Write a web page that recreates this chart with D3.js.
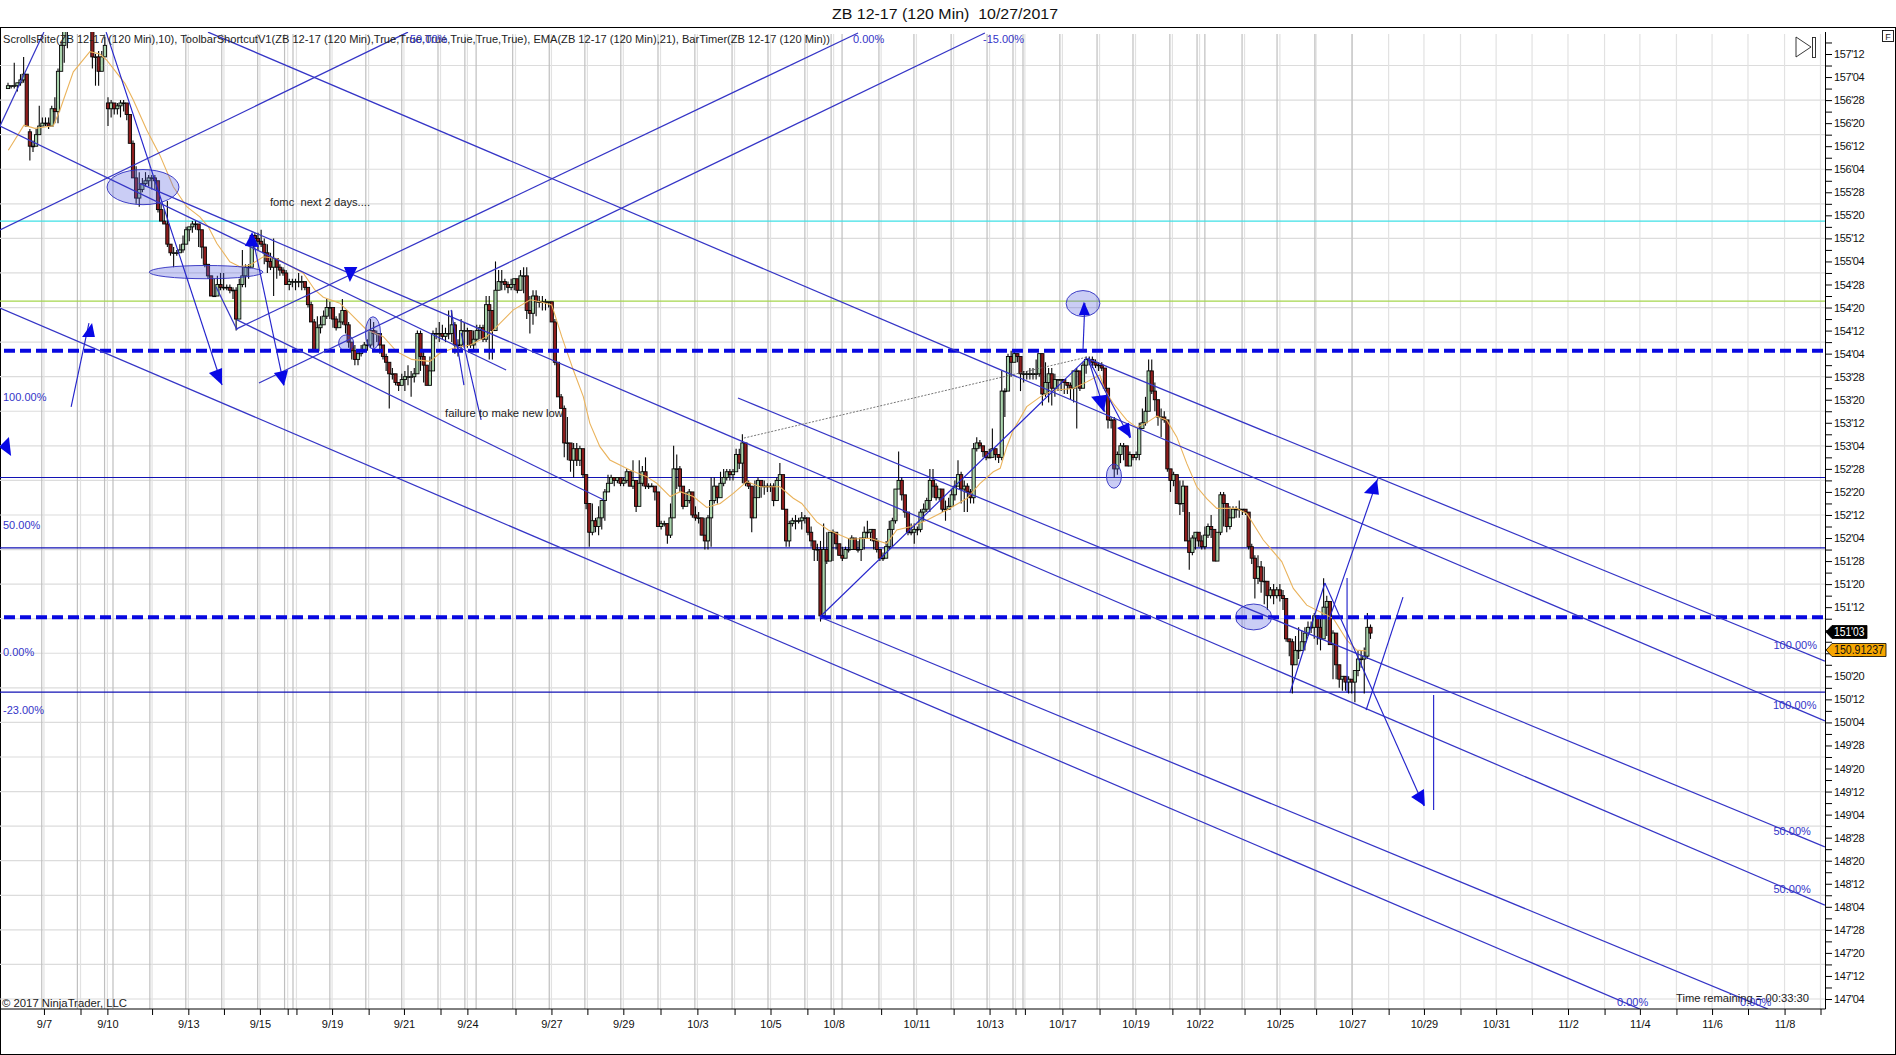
<!DOCTYPE html>
<html><head><meta charset="utf-8"><title>ZB 12-17</title>
<script src="https://cdnjs.cloudflare.com/ajax/libs/d3/7.8.5/d3.min.js"></script>
<style>
html,body{margin:0;padding:0;background:#fff;overflow:hidden}
svg{display:block}
text{font-family:"Liberation Sans",Arial,sans-serif}
</style></head><body><svg id="c" width="1896" height="1055"></svg>
<script>
// All prices are in 32nds above 147'00; bars are counted from the first visible candle.
const opens=[320,321,321,321,322,323,325,305,300,300,
304,307,308,308,307,313,312,326,335,340,
342,344,346,347,346,345,345,343,331,331,
326,331,315,313,315,313,314,315,315,311,
301,289,282,285,287,288,289,289,288,278,
274,273,266,263,263,263,264,266,271,272,
273,273,271,265,259,255,248,248,252,251,
251,251,250,250,240,252,255,258,258,269,
268,267,266,263,260,258,261,258,257,256,
252,253,253,253,253,253,251,245,239,229,
237,238,241,244,244,240,237,239,243,238,
232,229,226,228,229,231,231,236,235,235,
231,227,225,221,221,218,217,219,220,220,
220,221,235,227,224,217,222,235,235,235,
234,235,235,238,231,231,236,236,236,231,
233,236,237,233,245,243,236,250,253,253,
252,251,252,254,250,255,255,243,242,248,
246,246,246,246,246,239,225,213,209,197,
197,191,195,191,195,186,176,166,170,168,
171,177,180,183,185,184,185,183,184,187,
182,184,175,183,187,182,182,182,180,168,
169,169,165,171,188,188,182,175,177,180,
172,171,171,165,163,171,177,182,178,183,
185,187,186,187,193,190,197,183,182,171,
178,184,182,182,182,182,177,184,186,174,
163,169,170,170,170,171,171,166,163,160,
160,137,160,156,166,166,162,158,157,160,
160,164,160,160,164,166,166,167,163,160,
157,157,161,167,170,181,184,179,173,166,
166,167,167,173,174,177,184,182,178,181,
174,174,175,179,182,186,181,182,180,178,
195,197,196,194,192,192,195,193,192,215,
215,227,225,228,227,221,221,221,221,221,
221,228,214,218,221,216,219,219,219,218,
217,216,222,222,216,224,226,226,225,224,
224,223,216,205,205,188,193,196,196,189,
193,192,193,202,204,208,222,215,212,206,
206,205,188,184,186,176,176,182,163,159,
164,166,163,161,165,168,167,156,166,179,
176,168,171,174,174,174,174,173,161,157,
150,154,149,149,144,146,144,146,144,143,
129,128,120,125,125,128,131,133,133,137,
133,129,140,142,127,131,120,115,116,114,
115,114,118,122,122,123,133];
const closes=[321,321,321,322,323,325,307,300,300,304,
307,308,308,307,313,312,326,335,340,342,
344,346,347,346,345,345,343,331,331,326,
331,335,313,315,313,314,315,315,311,301,
289,282,285,287,288,289,289,288,278,274,
273,266,263,263,263,264,266,271,272,273,
273,271,265,259,255,248,248,252,251,251,
251,250,250,240,252,255,258,258,269,268,
267,266,263,260,258,261,258,257,256,252,
253,253,253,253,253,251,245,239,229,237,
238,241,244,244,240,237,239,243,238,232,
229,226,228,229,231,231,236,235,235,231,
227,225,221,221,218,217,219,220,220,220,
221,235,227,224,217,222,235,235,235,234,
235,235,238,231,231,236,236,236,231,233,
236,237,233,245,243,236,250,253,253,252,
251,252,254,250,255,255,243,242,248,246,
246,246,246,246,239,225,213,209,197,197,
191,195,191,195,186,176,166,170,168,171,
177,180,183,185,184,185,183,184,187,182,
184,175,183,187,182,182,182,180,168,169,
169,165,171,188,188,182,175,177,180,172,
171,171,165,163,171,177,182,178,183,185,
187,186,187,193,190,197,183,182,171,178,
184,182,182,182,182,177,184,186,174,163,
169,170,170,170,171,171,166,163,160,160,
137,160,156,166,166,162,158,157,160,160,
164,160,160,164,166,166,167,163,160,157,
157,161,167,170,181,184,179,173,166,166,
167,167,173,174,177,184,182,178,181,174,
174,175,179,182,186,181,182,180,178,195,
197,196,194,192,192,195,193,192,215,215,
227,225,228,227,221,221,221,221,221,221,
228,214,218,221,216,219,219,219,218,217,
216,222,222,216,224,226,226,225,224,224,
223,216,205,205,188,193,196,196,189,193,
192,193,202,204,208,222,215,212,206,206,
205,188,184,186,176,176,182,163,159,164,
166,163,161,165,168,167,156,166,179,176,
168,171,174,174,174,174,173,161,157,150,
154,149,149,144,146,144,146,144,143,129,
128,120,125,125,128,131,133,133,137,133,
129,140,142,127,131,120,115,116,114,115,
114,118,122,122,123,133,131];
const highs=[322,321,329,322,325,331,325,306,302,306,
314,310,310,310,314,317,327,336,342,345,
348,350,351,350,349,348,347,346,332,333,
333,338,317,316,315,315,316,316,314,311,
302,293,291,289,291,290,290,290,288,280,
278,281,266,265,264,266,269,272,272,274,
274,272,267,264,259,255,254,255,256,256,
252,252,251,251,254,264,259,259,269,270,
270,271,268,266,263,268,261,259,258,257,
254,254,254,256,255,252,251,246,240,241,
241,243,247,246,243,241,242,247,243,239,
232,231,229,231,232,233,240,239,236,235,
231,228,225,223,221,218,221,222,224,222,
223,236,236,229,224,227,236,237,239,238,
237,243,243,239,233,240,239,237,233,236,
238,238,238,248,248,243,260,257,257,254,
253,254,254,253,257,258,258,248,250,250,
248,248,247,246,246,240,225,214,210,206,
197,197,197,196,195,186,176,176,171,175,
177,181,186,186,185,185,185,185,188,187,
191,183,191,189,192,183,183,182,179,170,
170,169,176,196,193,189,182,180,181,180,
175,173,171,171,172,185,185,182,187,188,
188,188,188,195,195,200,197,184,182,184,
185,184,184,183,183,183,185,190,186,174,
170,171,172,171,173,172,170,168,163,162,
163,169,166,166,167,163,162,161,161,164,
165,164,163,164,168,170,167,167,164,160,
159,163,170,171,181,194,185,178,173,169,
169,168,174,176,178,188,188,183,181,178,
177,178,181,184,191,187,184,183,181,197,
199,198,196,194,195,202,195,193,222,216,
228,229,229,228,227,222,222,223,223,226,
228,228,225,223,223,221,219,219,219,218,
218,222,223,222,225,227,227,227,226,225,
225,223,216,206,206,194,197,197,196,194,
193,194,204,209,213,226,226,218,212,209,
208,205,188,187,186,184,184,182,173,165,
166,166,165,168,169,172,167,166,180,180,
176,175,175,175,177,174,174,173,162,158,
158,156,154,149,147,148,147,148,146,143,
129,129,130,133,132,133,135,135,138,135,
136,150,144,142,132,131,120,116,116,116,
115,118,125,125,126,138,134];
const lows=[320,320,320,319,321,322,307,295,298,300,
304,307,307,306,307,308,308,326,329,334,
341,343,344,344,343,342,341,327,321,321,
326,331,307,310,311,311,310,312,309,301,
289,280,279,284,286,286,285,285,277,274,
273,265,262,258,262,263,263,266,267,270,
271,265,261,258,254,248,248,249,250,250,
250,249,247,236,240,251,251,254,258,265,
264,265,259,256,257,248,254,255,255,252,
250,251,250,251,250,250,244,239,229,229,
235,238,240,240,237,236,237,238,235,230,
226,224,224,227,229,229,230,230,232,228,
226,222,209,219,217,215,217,215,217,213,
218,221,222,218,217,217,222,233,232,233,
232,233,232,228,227,229,230,230,230,229,
232,233,232,232,226,226,236,250,250,250,
249,250,250,249,250,249,240,235,238,241,
244,243,243,244,239,224,213,209,192,191,
187,185,189,189,185,174,161,165,166,165,
167,170,180,183,182,183,182,182,183,182,
181,173,175,182,181,181,182,177,168,167,
168,162,164,171,181,180,174,176,176,171,
170,169,165,160,160,161,176,176,178,182,
184,184,184,188,188,183,182,181,166,171,
178,178,179,180,180,175,177,184,174,161,
161,168,167,169,167,169,165,161,156,156,
135,137,155,156,156,160,158,156,157,159,
160,160,159,156,160,164,163,160,159,156,
156,157,160,161,169,181,177,171,165,165,
162,165,166,170,173,173,178,177,177,173,
170,174,175,177,182,176,173,173,176,176,
194,195,192,191,192,192,191,190,191,206,
215,220,225,225,215,218,219,219,219,219,
220,210,213,211,210,213,215,215,214,214,
212,211,202,215,216,221,224,223,223,222,
222,215,202,202,185,186,190,191,189,190,
191,191,191,203,203,209,214,208,203,199,
204,187,180,182,176,172,173,163,153,158,
160,161,160,160,164,164,156,156,165,168,
166,167,171,171,171,172,172,160,155,143,
148,145,141,139,143,141,143,142,139,128,
123,110,120,122,125,125,130,131,129,127,
125,133,130,127,115,115,112,111,111,110,
110,107,116,119,110,122,129];

const emaBars=[0.1,5.1,8.6,14.5,16.6,20.9,26.2,29.4,31.6,37.4,40.1,44.4,48.6,52.9,57.2,61.4,64.1,66.8,71,74.2,77.4,81.7,86,94.5,98.2,100.9,106.2,109.5,114.8,120.1,124.4,129.2,135,138.3,142.5,147.9,153.2,157.5,161.7,167.1,170.2,174,177.2,180.9,184.1,186.2,189.4,192.6,199,204.4,207.6,211.9,215.1,219.3,223.6,227.9,232.1,236.4,240.7,247,251.3,254,258.8,262.5,269.4,275.8,281.2,284.4,288.7,294,300.4,306.8,311,315.3,317.5,319.6,321.7,326,330.3,334.5,340.9,345.2,349.4,351,353.7,358,361.2,364.9,367.6,370.8,374,377.2,380.4,383.6,386.8,393.2,396.4,401.7,407.6,411.3,415.6,420.9,424.1,428.4,431.6,434.8];
const emaValues=[298.6,307.3,306.2,307.1,312.5,325.8,332.8,332,329.9,321.8,316,305.6,296.9,285.9,279,275.5,272,266.3,259.9,258.2,258.7,261.6,261,255.9,250.1,247.6,245.5,242,236.2,233.9,228.7,226,225.3,228.2,229.9,231,233.9,238.6,243.2,246.7,246,244.9,233.9,222.3,213.1,203.8,195.7,191.1,187.6,185.3,183,178.4,180.1,178.4,174.6,176,179.5,183.6,181.8,181.8,177.8,176,169.6,166.8,163.6,163.9,162.1,166.8,167.9,170.2,173.7,177.7,182.9,187,188.2,195.7,201.5,209.6,213,215.3,215.9,218.2,220.6,215.3,210.7,204.9,202.4,204.4,206.3,204.9,199.1,189.9,181.8,177.7,174.3,174.3,172.5,163.3,155.8,146.5,140.7,137.8,136.1,128.6,125.1,124.8];

// Price axis
const priceTicks=[336,332,328,324,320,316,312,308,304,300,296,292,288,284,280,276,272,268,264,260,256,252,248,244,240,236,232,228,224,220,216,212,208,204,200,196,192,188,184,180,176,172,168,164,160,156,152,148,144,140,136,132,128,124,120,116,112,108,104,100,96,92,88,84,80,76,72,68,64,60,56,52,48,44,40,36,32,28,24,20,16,12,8,4];
const priceGrid=[328,316,304,292,280,268,256,244,232,220,208,196,184,172,160,148,136,124,112,100,88,76,64,52,40,28,16,4];

// Time axis
const timeTicks=[11.5,23.2,31.8,46.1,57.7,69.1,80.6,89.5,92.3,103.7,115.4,126.7,138.4,147,162.4,173.9,185.4,196.9,208.8,220.6,232.5,244,255.8,264.2,279.4,290.7,302.6,314.1,322.4,325.4,337.4,349.3,360.8,372.6,381.3,395.7,407,418.6,430.1,441.8,453.1,464.8,476.2,487.7,499.2,510.9,522.2,533.9,545.3,556.8,568.5,580];
const timeLabelBars=[11.5,31.8,57.7,80.6,103.7,126.7,147,173.9,196.9,220.6,244,264.2,290.7,314.1,337.4,360.8,381.3,407,430.1,453.1,476.2,499.2,522.2,545.3,568.5];
const timeLabels=["9/7","9/10","9/13","9/15","9/19","9/21","9/24","9/27","9/29","10/3","10/5","10/8","10/11","10/13","10/17","10/19","10/22","10/25","10/27","10/29","10/31","11/2","11/4","11/6","11/8"];
const sessionBars=[10.8,22.2,30.9,33.6,45.4,56.9,68.4,79.9,88.5,91.2,103,114.5,126,137.6,146.2,149.8,161.5,173.2,184.6,196.1,208,219.8,231.7,243.2,255,263.4,266.9,278.7,289.9,301.8,313.3,321.6,324.8,336.6,348.5,360,371.8,380.5,383,394.9,406.1,418.2,430.1];

// Horizontal drawings
const cyanLevels=[274];
const limeLevels=[246.2];
const dashedLevels=[229,136.5];
const solidLevels=[185,160.6,110.5];

// Sloped drawings: [bar1, price1, bar2, price2]
const channelLines=[[-2.56,307,159.4,222.3],[41.9,287.2,581.4,36.6],[-2.56,243.8,522.2,0.5],[259.8,136.6,563.2,0.5],[64,339.6,581.4,100.5],[345.9,226.1,581.4,121.3],[233.6,212.6,581.4,56.8],[73.3,239.7,190.7,177.2],[66.6,251.1,73.3,236.2],[-2.56,270.9,128,339.6],[73,236.5,272,339.3],[80.3,217.8,312.6,339.3],[-2.56,307,11.5,339.6]];
const arrowLines=[[31.4,339.6,68.5,217.1],[78.1,269.2,88.3,217.1],[20.2,209.5,25.9,238.6],[141.8,243.2,145.9,217.1],[145,235.2,151.4,205],[344,229.3,344.6,245.6],[345.6,226.5,351,207.7],[345.6,226.5,359,198.7],[410.2,110.2,421.4,148.4],[422.7,135.6,438.4,184.8],[428.5,150.1,428.5,110.2],[434.6,104.3,446.4,143.5],[421.4,148.4,453.1,71],[456.2,109.5,456.2,69.6],[259.8,136.6,345.3,226.5]];
const dottedLine=[235.5,198.7,345.3,226.8];
// Arrowheads: three corners as bar,price pairs
const arrowHeads=[[23.7,233.8,27.8,233.8,26.9,238.6],[64.3,221.3,68.5,223,68.5,217.1],[75.8,265.4,80.3,265,78.1,270.2],[85.1,221.3,89.6,222.3,88.3,216.8],[107.5,258.1,111.8,258.1,109.4,252.9],[-2.9,195.6,0.3,199.1,1,192.5],[342.7,241.4,346.2,241.4,344.3,246],[346.6,213,351.7,213.7,350.7,207.7],[354.9,202.2,358.7,204,359.4,198.7],[433.9,179.6,438.1,184.2,438.7,179],[449,74.1,453.1,76.9,453.4,71]];
// Ellipses: bar, price, bar radius, price radius
const ellipses=[[43.2,285.8,11.5,6.1],[63.4,256.3,18.2,2.3],[108.2,231.7,2.4,2.8],[116.8,235.2,2.4,5.6],[344,245.4,5.4,4.5],[353.9,185.5,2.4,4.2],[398.6,136.6,5.8,4.5]];

const svg=d3.select("#c");
const PL=0,PR=1825,PB=1009,PT=32;
const x=d3.scaleLinear().domain([0,600]).range([8,8+600*3.125]);
const y=d3.scaleLinear().domain([4,332]).range([999,54]);
const fmt=t=>`${147+Math.floor(t/32)}'${String(t%32).padStart(2,"0")}`;

svg.append("defs").append("clipPath").attr("id","plot").append("rect").attr("x",PL).attr("y",PT).attr("width",PR-PL).attr("height",PB-PT);

// frame
svg.append("rect").attr("x",0.5).attr("y",27.5).attr("width",1895).attr("height",1027).attr("fill","#fff").attr("stroke","#000").attr("stroke-width",1);

const plot=svg.append("g").attr("clip-path","url(#plot)");

// grid
plot.append("g").selectAll("line").data(priceGrid).join("line")
 .attr("x1",PL).attr("x2",PR).attr("y1",d=>y(d)).attr("y2",d=>y(d)).attr("stroke","#dcdcdc").attr("stroke-width",1.2);
plot.append("g").selectAll("line").data(timeTicks).join("line")
 .attr("x1",d=>x(d)).attr("x2",d=>x(d)).attr("y1",34).attr("y2",PB).attr("stroke","#e2e2e2").attr("stroke-width",1.2);
plot.append("g").selectAll("line").data(sessionBars).join("line")
 .attr("x1",d=>x(d)).attr("x2",d=>x(d)).attr("y1",34).attr("y2",PB).attr("stroke","#bfbfbf").attr("stroke-width",1.2);

// horizontal levels
const hline=(data,col,w,dash)=>plot.append("g").selectAll("line").data(data).join("line")
 .attr("x1",dash?4:PL).attr("x2",PR).attr("y1",d=>y(d)).attr("y2",d=>y(d)).attr("stroke",col).attr("stroke-width",w).attr("stroke-dasharray",dash||null);
hline(cyanLevels,"#3fe0e6",1.2);
hline(limeLevels,"#a5d64c",1.2);
hline(solidLevels,"#1212b4",1.2);

// candles
const bars=d3.range(closes.length);
plot.append("g").selectAll("line").data(bars).join("line")
 .attr("x1",i=>x(i)).attr("x2",i=>x(i)).attr("y1",i=>y(highs[i])).attr("y2",i=>y(lows[i]))
 .attr("stroke","#050505").attr("stroke-width",1.1);
plot.append("g").selectAll("rect").data(bars).join("rect")
 .attr("x",i=>x(i)-1.6).attr("width",3.2)
 .attr("y",i=>y(Math.max(opens[i],closes[i])))
 .attr("height",i=>Math.max(0.6,Math.abs(y(opens[i])-y(closes[i]))))
 .attr("fill",i=>closes[i]>=opens[i]?"#a9d4ac":"#8e1c1c").attr("stroke","#050505").attr("stroke-width",0.9);

// EMA
plot.append("path").datum(bars.slice(0,emaBars.length))
 .attr("d",d3.line().x(i=>x(emaBars[i])).y(i=>y(emaValues[i])))
 .attr("fill","none").attr("stroke","#eab35c").attr("stroke-width",1.1);

// drawings
plot.append("g").selectAll("ellipse").data(ellipses).join("ellipse")
 .attr("cx",d=>x(d[0])).attr("cy",d=>y(d[1])).attr("rx",d=>x(d[2])-x(0)).attr("ry",d=>y(0)-y(d[3]))
 .attr("fill","rgba(90,100,225,0.32)").attr("stroke","#2c2cc0").attr("stroke-width",0.9);
hline(dashedLevels,"#0808e0",4,"11,5");
const seg=(data,col,w)=>plot.append("g").selectAll("line").data(data).join("line")
 .attr("x1",d=>x(d[0])).attr("y1",d=>y(d[1])).attr("x2",d=>x(d[2])).attr("y2",d=>y(d[3])).attr("stroke",col).attr("stroke-width",w);
seg(channelLines,"#3535c6",1.25);
seg(arrowLines,"#2424cc",1.15);
plot.append("line").datum(dottedLine).attr("x1",d=>x(d[0])).attr("y1",d=>y(d[1])).attr("x2",d=>x(d[2])).attr("y2",d=>y(d[3]))
 .attr("stroke","#666").attr("stroke-width",0.9).attr("stroke-dasharray","2,1.5");
plot.append("g").selectAll("path").data(arrowHeads).join("path")
 .attr("d",d=>`M${x(d[0])},${y(d[1])}L${x(d[2])},${y(d[3])}L${x(d[4])},${y(d[5])}Z`).attr("fill","#0808e6");

// axes
svg.append("line").attr("x1",0).attr("x2",PR+0.5).attr("y1",PB).attr("y2",PB).attr("stroke","#000");
const yAxis=d3.axisRight(y).tickValues(priceTicks).tickSize(7).tickPadding(2).tickFormat(t=>t%8===4?fmt(t):"");
const yg=svg.append("g").attr("transform",`translate(${PR},0)`).call(yAxis);
yg.select(".domain").attr("d",`M0.5,${PT}V${PB}`).attr("stroke","#000");
yg.selectAll("text").attr("font-size",11).attr("letter-spacing","-0.4").attr("fill","#111").attr("font-family",'"Liberation Sans",Arial,sans-serif');
yg.selectAll("line").attr("stroke","#000");

const xAxis=d3.axisBottom(x).tickValues(timeTicks).tickSize(6).tickPadding(5).tickFormat(t=>{const k=timeLabelBars.indexOf(t);return k>=0?timeLabels[k]:"";});
const xg=svg.append("g").attr("transform",`translate(0,${PB})`).call(xAxis);
xg.select(".domain").remove();
xg.selectAll("text").attr("font-size",11).attr("fill","#111").attr("font-family",'"Liberation Sans",Arial,sans-serif');
xg.selectAll("line").attr("stroke","#000");

// text
const label=(s,px,py,o={})=>{const t=svg.append("text").attr("x",px).attr("y",py).attr("dominant-baseline","central")
 .attr("font-size",o.size||11).attr("fill",o.fill||"#222").attr("text-anchor",o.anchor||"start").text(s);
 if(o.len)t.attr("textLength",o.len).attr("lengthAdjust","spacingAndGlyphs");return t;};
label("ZB 12-17 (120 Min)  10/27/2017",832,13,{size:15.5,len:226,fill:"#111"}).style("white-space","pre");
label("ScrollsRite(ZB 12-17 (120 Min),10), ToolbarShortcutV1(ZB 12-17 (120 Min),True,True,True,True,True,True), EMA(ZB 12-17 (120 Min),21), BarTimer(ZB 12-17 (120 Min))",3,39,{size:11,len:827,fill:"#222"});
label("fomc  next 2 days....",270,202,{len:100}).style("white-space","pre");
label("failure to make new low",445,413,{len:118});
label("© 2017 NinjaTrader, LLC",2,1003,{len:125});
label("Time remaining = 00:33:30",1676,998,{len:133});
const pctBlue="#3434c8";
[["100.00%",3,397],["50.00%",3,525],["0.00%",3,652],["-23.00%",3,710],["50.00%",410,39],["0.00%",853,39],["-15.00%",983,39],
 ["100.00%",1773.5,645],["100.00%",1773,705],["50.00%",1773.5,831],["50.00%",1773.5,889],["0.00%",1617,1002],["0.00%",1740,1002]]
 .forEach(d=>label(d[0],d[1],d[2],{fill:pctBlue,size:11}));

// price badges
const badge=(yy,w,fill,txt,col,tx,len)=>{
 svg.append("path").attr("d",`M${PR+1},${yy}L${PR+7},${yy-6.5}H${PR+1+w}V${yy+6.5}H${PR+7}Z`).attr("fill",fill).attr("stroke","#000").attr("stroke-width",0.8);
 label(txt,PR+tx,yy,{fill:col,size:12,len});
};
badge(632,41,"#000","151'03","#fff",9,30.5);
badge(650,60,"#f7a600","150.91237","#111",9,50);

// chart chrome
svg.append("path").attr("d","M1796,37L1811,47L1796,57Z").attr("fill","none").attr("stroke","#222").attr("stroke-width",0.9);
svg.append("rect").attr("x",1812.5).attr("y",37.5).attr("width",3).attr("height",20).attr("fill","none").attr("stroke","#222").attr("stroke-width",0.9);
svg.append("rect").attr("x",1882.5).attr("y",30.5).attr("width",11).attr("height",11).attr("fill","#fff").attr("stroke","#222");
label("F",1888,36.5,{size:9,anchor:"middle"});
</script></body></html>
